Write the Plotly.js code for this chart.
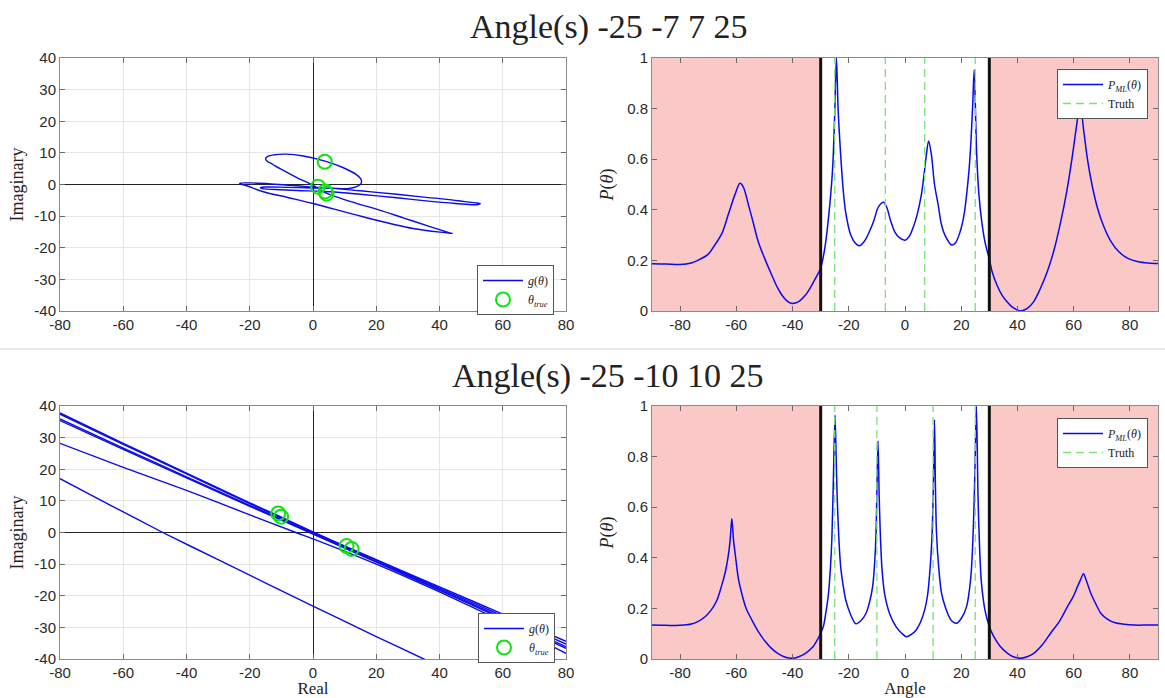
<!DOCTYPE html>
<html>
<head>
<meta charset="utf-8">
<script src="https://cdn.plot.ly/plotly-3.0.1.min.js"></script>
<style>html,body{margin:0;padding:0;background:#fff;}#chart{width:1165px;height:698px;}</style>
</head>
<body>
<div id="chart"></div>
<script>
// ---------- DATA ----------
var titles = ["Angle(s) -25 -7 7 25", "Angle(s) -25 -10 10 25"];
var trueAngles1 = [-25, -7, 7, 25];
var trueAngles2 = [-25, -10, 10, 25];
var sectorLimits = [-30, 30];
var angleRange = [-90, 90];

// tick labels
var realTicks = [-80, -60, -40, -20, 0, 20, 40, 60, 80];
var realTickText = ["-80", "-60", "-40", "-20", "0", "20", "40", "60", "80"];
var imagTicks = [-40, -30, -20, -10, 0, 10, 20, 30, 40];
var imagTickText = ["-40", "-30", "-20", "-10", "0", "10", "20", "30", "40"];
var angleTicks = [-80, -60, -40, -20, 0, 20, 40, 60, 80];
var angleTickText = ["-80", "-60", "-40", "-20", "0", "20", "40", "60", "80"];
var powerTicks = [0, 0.2, 0.4, 0.6, 0.8, 1];
var powerTickText = ["0", "0.2", "0.4", "0.6", "0.8", "1"];

// g(theta) trace, case 1 (real / imaginary parts)
var curve1Real = [-23.2,-20,-12,-5,0,5,15,26.5,35,42.3,48,51.5,52.9,51.5,45,35,26.5,15,5.4,-5,-12,-15.5,-16.6,-15.5,-8,0,6,11,13.8,15.2,15.2,13.6,9.6,3.8,-3.1,-8.5,-12.2,-14.3,-15,-14.4,-12.8,-10.4,-5.1,0,3.8,12,21.1,29,37,42,43.6,44,42.5,31.6,15.8,0,-8,-15.7,-21,-23,-23.2];
var curve1Imag = [0.4,0.5,0.1,-0.4,-0.8,-1.1,-2.0,-3.1,-4.0,-4.7,-5.4,-5.8,-6.1,-6.4,-6.0,-5.1,-4.2,-3.1,-2.3,-1.9,-1.6,-1.4,-1.0,-0.8,-0.9,-1.1,-1.2,-1.3,-0.7,0.3,1.6,3.2,5.3,7.4,9.0,9.6,9.4,8.9,8.1,7.3,6.4,5.0,2.2,-0.2,-2.6,-5.4,-8.1,-10.7,-13.3,-14.9,-15.4,-15.5,-15.3,-13.9,-10.2,-6.0,-4.1,-2.3,-0.4,0.2,0.4];
var true1Real = [3.7, 1.6, 3.9, 4.3];
var true1Imag = [7.2, -0.7, -2.2, -2.9];

// g(theta) trace, case 2 (branches separated by gaps)
var curve2Real = [-80,-60,-40,-20,-11,0,11,20,40,60,80,null,
                  -80,-60,-40,-20,0,20,40,60,80,null,
                  -80,-60,-40,-20,0,20,40,60,80,null,
                  -80,-60,-40,-20,0,20,40,60,80,null,
                  -80,-60,-40,-20,-5.4,0,20,40,60,80,null,
                  -80,-64,-47.5,-30,0,20,35,37];
var curve2Imag = [37.8,28.2,18.8,9.4,5.3,0.2,-4.7,-8.6,-17.2,-25.8,-34.4,null,
                  37.4,27.9,18.5,9.1,0,-8.8,-17.6,-26.4,-35.3,null,
                  35.9,26.7,17.6,8.6,-0.3,-9.2,-18.0,-27.0,-36.1,null,
                  35.4,26.3,17.3,8.3,-0.5,-9.4,-18.3,-27.4,-36.6,null,
                  28.2,20.6,13.3,5.6,0,-2.0,-10.0,-18.8,-28.2,-38.2,null,
                  17.0,8.6,0,-8.6,-23.3,-32.9,-40.0,-41];
var true2Real = [-11.0, -10.1, 10.6, 12.2];
var true2Imag = [6.0, 5.0, -4.3, -5.2];

// P_ML(theta), case 1
var angles1 = [-90,-85,-80,-76,-73.7,-70,-67.7,-65,-62.9,-60.5,-58.7,-57.5,-55.7,-54,-52.2,-50,-47.4,-45.5,-43.8,-42,-40.2,-38,-35.4,-33.5,-31.8,-30,-28.5,-27.1,-26,-25.5,-25,-24.4,-23.8,-22.9,-22,-21.1,-19.3,-17.8,-16.3,-14.5,-12.7,-11,-9.7,-8.5,-7.6,-6.5,-5,-3.5,-2,0,1.5,2.8,4.3,5.8,7,7.6,8.4,9.4,10.5,11.8,13,14.2,16.6,18,19.6,21,21.9,22.8,23.5,24.1,24.6,25,25.5,26.3,27.3,28.5,30,31,32.7,34.5,36.3,38.5,41,43.5,45.8,48,50.6,53,55.4,57.5,59.6,61,62.3,63.5,64.9,66.5,68.5,70.5,73.3,76,79.3,83,86.5,90];
var power1 = [0.187,0.186,0.184,0.19,0.2,0.225,0.26,0.31,0.38,0.46,0.505,0.49,0.42,0.35,0.274,0.21,0.142,0.095,0.063,0.04,0.03,0.036,0.063,0.095,0.13,0.17,0.25,0.38,0.52,0.62,0.78,1.0,0.8,0.62,0.48,0.39,0.3,0.27,0.258,0.275,0.313,0.36,0.406,0.425,0.43,0.41,0.353,0.31,0.29,0.28,0.295,0.327,0.38,0.458,0.56,0.617,0.672,0.617,0.5,0.419,0.34,0.3,0.261,0.27,0.313,0.38,0.458,0.56,0.68,0.82,0.953,0.82,0.62,0.46,0.353,0.27,0.205,0.155,0.103,0.063,0.037,0.013,0.0,0.01,0.037,0.085,0.155,0.24,0.353,0.47,0.617,0.73,0.82,0.72,0.6,0.5,0.406,0.34,0.274,0.235,0.208,0.195,0.19,0.188];

// P_ML(theta), case 2
var angles2 = [-90,-85,-80,-76,-73.7,-71,-68.9,-67,-65.3,-64,-62.9,-62.2,-61.6,-61,-60.3,-59.3,-58.1,-56.5,-54.5,-52,-49.7,-47.5,-45,-42.5,-40.2,-38,-35.4,-33,-31.5,-30.3,-29,-28.2,-27.3,-26.5,-26,-25.5,-24.9,-24.5,-24.1,-23.5,-22.9,-22,-21.1,-19.5,-17.5,-15.8,-13.9,-12.5,-11.5,-10.8,-10.3,-9.6,-9.2,-8.8,-8.2,-7.3,-5.5,-3.2,-1,0.5,2,4,5.5,7,8,8.8,9.5,10,10.5,10.8,11.2,12,13,14.5,16.3,18.3,20,21.9,23,23.7,24.4,24.9,25.4,26,26.6,27.2,28.5,30,31.5,33.9,36.5,38.5,41,43.5,45.8,49,51.8,55,57.8,60,61.4,62.5,63.5,64.5,66.1,68,69.7,72,74.5,78,81.6,86,90];
var power2 = [0.134,0.133,0.133,0.138,0.148,0.168,0.194,0.23,0.287,0.34,0.406,0.47,0.555,0.47,0.406,0.32,0.26,0.2,0.155,0.105,0.069,0.042,0.02,0.007,0.003,0.008,0.022,0.045,0.07,0.095,0.13,0.18,0.25,0.366,0.48,0.7,0.964,0.8,0.63,0.47,0.366,0.29,0.234,0.18,0.139,0.15,0.18,0.23,0.287,0.38,0.5,0.862,0.65,0.5,0.36,0.26,0.18,0.128,0.1,0.088,0.095,0.115,0.145,0.194,0.25,0.34,0.46,0.63,0.946,0.7,0.5,0.36,0.26,0.2,0.155,0.141,0.16,0.207,0.28,0.366,0.55,0.76,1.0,0.63,0.42,0.3,0.19,0.128,0.09,0.049,0.022,0.009,0.003,0.009,0.022,0.058,0.102,0.15,0.207,0.25,0.287,0.315,0.337,0.31,0.26,0.215,0.18,0.158,0.144,0.137,0.134,0.134,0.134];

// ---------- STYLE ----------
var BLUE = 'rgb(10,10,235)';
var GREEN = 'rgb(20,225,20)';
var TRUTH = 'rgb(120,228,120)';
var PINK = 'rgb(251,200,200)';
var serif = '"Liberation Serif", "Times New Roman", serif';
var sans = '"Liberation Sans", Arial, sans-serif';

function truthLines(angles) {
  var xs = [], ys = [];
  angles.forEach(function (a) { xs.push(a, a, null); ys.push(0, 1, null); });
  return {x: xs, y: ys};
}
var t1 = truthLines(trueAngles1), t2 = truthLines(trueAngles2);

var traces = [
  {x: curve1Real, y: curve1Imag, xaxis: 'x', yaxis: 'y', mode: 'lines', name: '<i>g</i>(<i>θ</i>)',
   line: {color: BLUE, width: 1.4, shape: 'spline', smoothing: 1.0}, legend: 'legend'},
  {x: true1Real, y: true1Imag, xaxis: 'x', yaxis: 'y', mode: 'markers', name: '<i>θ<sub>true</sub></i>',
   marker: {symbol: 'circle-open', size: 14, color: GREEN, line: {width: 2, color: GREEN}}, legend: 'legend'},
  {x: angles1, y: power1, xaxis: 'x2', yaxis: 'y2', mode: 'lines', name: '<i>P<sub>ML</sub></i>(<i>θ</i>)',
   line: {color: BLUE, width: 1.5, shape: 'spline', smoothing: 0.9}, legend: 'legend2'},
  {x: t1.x, y: t1.y, xaxis: 'x2', yaxis: 'y2', mode: 'lines', name: 'Truth', connectgaps: false,
   line: {color: TRUTH, width: 1.3, dash: '8px,5px'}, legend: 'legend2'},
  {x: curve2Real, y: curve2Imag, xaxis: 'x3', yaxis: 'y3', mode: 'lines', name: '<i>g</i>(<i>θ</i>)', connectgaps: false,
   line: {color: BLUE, width: 1.4, shape: 'spline', smoothing: 0.6}, legend: 'legend3'},
  {x: true2Real, y: true2Imag, xaxis: 'x3', yaxis: 'y3', mode: 'markers', name: '<i>θ<sub>true</sub></i>',
   marker: {symbol: 'circle-open', size: 14, color: GREEN, line: {width: 2, color: GREEN}}, legend: 'legend3'},
  {x: angles2, y: power2, xaxis: 'x4', yaxis: 'y4', mode: 'lines', name: '<i>P<sub>ML</sub></i>(<i>θ</i>)',
   line: {color: BLUE, width: 1.5, shape: 'spline', smoothing: 0.8}, legend: 'legend4'},
  {x: t2.x, y: t2.y, xaxis: 'x4', yaxis: 'y4', mode: 'lines', name: 'Truth', connectgaps: false,
   line: {color: TRUTH, width: 1.3, dash: '8px,5px'}, legend: 'legend4'}
];

var W = 1165, H = 698;
function dx(a, b) { return [a / W, b / W]; }
function dy(top, bottom) { return [1 - bottom / H, 1 - top / H]; }

var tickFont = {family: sans, size: 15, color: '#2a2a2a'};
function baseAxis(extra) {
  var a = {showline: true, mirror: 'ticks', linecolor: '#8a8a8a', linewidth: 1,
           ticks: 'inside', ticklen: 5, tickcolor: '#6a6a6a', tickfont: tickFont,
           tickmode: 'array', zeroline: false, showgrid: false, fixedrange: true};
  for (var k in extra) a[k] = extra[k];
  return a;
}
var gridC = '#e6e6e6';
var titleFont = {family: serif, size: 18, color: '#222'};
var xTitleFont = {family: serif, size: 17, color: '#222'};
var legFont = {family: serif, size: 12, color: '#222'};

var layout = {
  width: W, height: H,
  margin: {l: 0, r: 0, t: 0, b: 0},
  paper_bgcolor: '#fff', plot_bgcolor: '#fff',
  font: {family: sans, color: '#222'},
  xaxis: baseAxis({domain: dx(60, 566), anchor: 'y', range: [-80, 80], tickvals: realTicks, ticktext: realTickText,
    showgrid: true, gridcolor: gridC, zeroline: true, zerolinecolor: '#222', zerolinewidth: 1}),
  yaxis: baseAxis({domain: dy(58, 311), anchor: 'x', range: [-40, 40], tickvals: imagTicks, ticktext: imagTickText,
    showgrid: true, gridcolor: gridC, zeroline: true, zerolinecolor: '#222', zerolinewidth: 1,
    title: {text: 'Imaginary', font: titleFont, standoff: 6}}),
  xaxis2: baseAxis({domain: dx(652, 1158), anchor: 'y2', range: angleRange, tickvals: angleTicks, ticktext: angleTickText}),
  yaxis2: baseAxis({domain: dy(58, 311), anchor: 'x2', range: [0, 1], tickvals: powerTicks, ticktext: powerTickText,
    title: {text: '<i>P</i>(<i>θ</i>)', font: titleFont, standoff: 8}}),
  xaxis3: baseAxis({domain: dx(60, 566), anchor: 'y3', range: [-80, 80], tickvals: realTicks, ticktext: realTickText,
    showgrid: true, gridcolor: gridC, zeroline: true, zerolinecolor: '#222', zerolinewidth: 1,
    title: {text: 'Real', font: xTitleFont, standoff: 8}}),
  yaxis3: baseAxis({domain: dy(406, 659), anchor: 'x3', range: [-40, 40], tickvals: imagTicks, ticktext: imagTickText,
    showgrid: true, gridcolor: gridC, zeroline: true, zerolinecolor: '#222', zerolinewidth: 1,
    title: {text: 'Imaginary', font: titleFont, standoff: 6}}),
  xaxis4: baseAxis({domain: dx(652, 1158), anchor: 'y4', range: angleRange, tickvals: angleTicks, ticktext: angleTickText,
    title: {text: 'Angle', font: xTitleFont, standoff: 8}}),
  yaxis4: baseAxis({domain: dy(406, 659), anchor: 'x4', range: [0, 1], tickvals: powerTicks, ticktext: powerTickText,
    title: {text: '<i>P</i>(<i>θ</i>)', font: titleFont, standoff: 8}}),
  legend: {x: 477 / W, y: 1 - 265 / H, xanchor: 'left', yanchor: 'top', bgcolor: '#fff', itemwidth: 40,
    bordercolor: '#555', borderwidth: 1, font: legFont},
  legend2: {x: 1057 / W, y: 1 - 69 / H, xanchor: 'left', yanchor: 'top', bgcolor: '#fff', itemwidth: 40,
    bordercolor: '#555', borderwidth: 1, font: legFont},
  legend3: {x: 478 / W, y: 1 - 613 / H, xanchor: 'left', yanchor: 'top', bgcolor: '#fff', itemwidth: 40,
    bordercolor: '#555', borderwidth: 1, font: legFont},
  legend4: {x: 1057 / W, y: 1 - 418 / H, xanchor: 'left', yanchor: 'top', bgcolor: '#fff', itemwidth: 40,
    bordercolor: '#555', borderwidth: 1, font: legFont},
  shapes: [],
  annotations: [
    {text: titles[0], xref: 'paper', yref: 'paper', x: 609 / W, y: 1 - 27 / H, showarrow: false,
     xanchor: 'center', yanchor: 'middle', font: {family: serif, size: 34, color: '#222'}},
    {text: titles[1], xref: 'paper', yref: 'paper', x: 608 / W, y: 1 - 376 / H, showarrow: false,
     xanchor: 'center', yanchor: 'middle', font: {family: serif, size: 34, color: '#222'}}
  ],
  showlegend: true
};

// separator line between the two rows
layout.shapes.push({type: 'line', xref: 'paper', yref: 'paper', x0: 0, x1: 1, y0: 1 - 349 / H, y1: 1 - 349 / H,
  line: {color: '#cfcfcf', width: 1}});

[['x2', 'y2'], ['x4', 'y4']].forEach(function (ax) {
  layout.shapes.push({type: 'rect', xref: ax[0], yref: ax[1], x0: angleRange[0], x1: sectorLimits[0], y0: 0, y1: 1,
    fillcolor: PINK, line: {width: 0}, layer: 'below'});
  layout.shapes.push({type: 'rect', xref: ax[0], yref: ax[1], x0: sectorLimits[1], x1: angleRange[1], y0: 0, y1: 1,
    fillcolor: PINK, line: {width: 0}, layer: 'below'});
  sectorLimits.forEach(function (s) {
    layout.shapes.push({type: 'line', xref: ax[0], yref: ax[1], x0: s, x1: s, y0: 0, y1: 1,
      line: {color: '#111', width: 3}, layer: 'above'});
  });
});

Plotly.newPlot('chart', traces, layout, {displayModeBar: false, staticPlot: true});
</script>
</body>
</html>
